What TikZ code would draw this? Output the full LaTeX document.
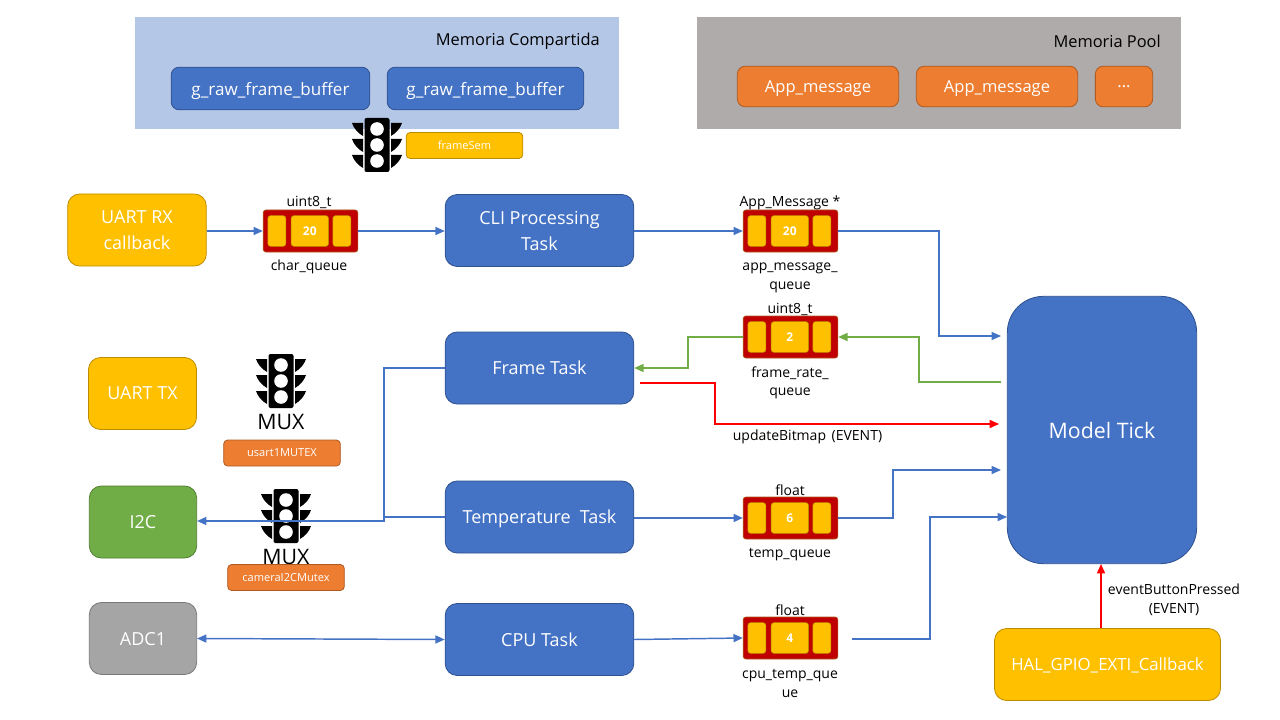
\documentclass[tikz,border=0pt]{standalone}
\usepackage{fontspec}
\setmainfont{Open Sans}
\usetikzlibrary{arrows.meta,calc}

\definecolor{taskblue}{HTML}{4472C4}
\definecolor{taskedge}{HTML}{2F528F}
\definecolor{linkblue}{HTML}{4472C4}
\definecolor{memblue}{HTML}{B4C7E7}
\definecolor{memgray}{HTML}{AFABAB}
\definecolor{msgorange}{HTML}{ED7D31}
\definecolor{msgedge}{HTML}{AE5A21}
\definecolor{periphyellow}{HTML}{FFC000}
\definecolor{yellowedge}{HTML}{BC8C00}
\definecolor{periphgreen}{HTML}{70AD47}
\definecolor{greenedge}{HTML}{507E32}
\definecolor{periphgray}{HTML}{A5A5A5}
\definecolor{grayedge}{HTML}{787878}
\definecolor{queuered}{HTML}{C00000}

\tikzset{
    box/.style={rounded corners=9pt, line width=0.6pt, align=center, text=white, inner sep=0pt,
        text depth=0pt, font=\fontsize{12.8}{19.5}\selectfont},
    task/.style={box, fill=taskblue, draw=taskedge, minimum width=141.5pt, minimum height=54pt,
        font=\fontsize{13.5}{19.5}\selectfont},
    buffer/.style={box, fill=taskblue, draw=taskedge, rounded corners=6pt, minimum height=32pt},
    message/.style={box, fill=msgorange, draw=msgedge, rounded corners=6pt, minimum height=30.5pt,
        font=\fontsize{12.4}{19}\selectfont},
    periph/.style={box, minimum height=54pt, font=\fontsize{13.5}{19}\selectfont},
    tag/.style={box, rounded corners=3pt, minimum width=87.5pt, minimum height=19.5pt,
        font=\fontsize{8.3}{9}\selectfont},
    caption/.style={align=center, inner sep=0pt, yshift=-1pt, font=\fontsize{10.5}{14.2}\selectfont},
    queuebox/.style={fill=queuered, draw=msgedge, line width=0.5pt, rounded corners=2pt,
        minimum width=71pt, minimum height=31.5pt, inner sep=0pt},
    slot/.style={fill=periphyellow, draw=yellowedge, line width=0.4pt, rounded corners=2pt,
        minimum height=23pt, inner sep=0pt, text=white, font=\fontsize{9}{9}\bfseries\selectfont},
    link/.style={-{Triangle[length=7pt,width=6pt]}, line width=1.1pt, draw=linkblue},
    plain link/.style={line width=1.1pt, draw=linkblue},
    green link/.style={link, draw=periphgreen},
    red link/.style={link, draw=red},
    pics/semaphore/.style={code={
        \fill[rounded corners=1.5pt] (-12.5,-27) rectangle (12.5,27);
        \foreach \yy in {-16,0,16} {
            \fill[white] (0,\yy) circle (6.8);
            \fill (-14,\yy-6) -- (-25,\yy-6) .. controls (-23,\yy) and (-19,\yy+4) .. (-14,\yy+7) -- cycle;
            \fill (14,\yy-6) -- (25,\yy-6) .. controls (23,\yy) and (19,\yy+4) .. (14,\yy+7) -- cycle;
        }
    }},
}

% queue with its three slots
\newcommand{\queue}[4]{
    \node[queuebox] (#1) at (#2,#3) {};
    \node[slot, minimum width=13.5pt] (#1l) at ($(#1.west)+(14,0)$) {};
    \node[slot, minimum width=28pt] (#1m) at ($(#1.west)+(47,0)$) {#4};
    \node[slot, minimum width=13.5pt] (#1r) at ($(#1.west)+(79,0)$) {};
}

\begin{document}
\begin{tikzpicture}[x=0.75pt, y=-0.75pt]
    \useasboundingbox (0,0) rectangle (1280,720);

    % Shared memory and pool
    \fill[memblue] (135,17) rectangle (619,129);
    \fill[memgray] (697,17) rectangle (1181,129);
    \node[caption, anchor=east, font=\fontsize{12.3}{14}\selectfont] (sharedlabel) at (600,40) {Memoria Compartida};
    \node[caption, anchor=east, font=\fontsize{12.3}{14}\selectfont] (poollabel) at (1161,40) {Memoria Pool};
    \node[buffer, minimum width=149pt] (buffera) at (270.5,88.5) {g\_raw\_frame\_buffer};
    \node[buffer, minimum width=147.5pt] (bufferb) at (485.5,88.5) {g\_raw\_frame\_buffer};
    \node[message, minimum width=121pt] (messagea) at (818,86.5) {App\_message};
    \node[message, minimum width=121pt] (messageb) at (997,86.5) {App\_message};
    \node[message, minimum width=43pt] (messagec) at (1124,86.5) {...};

    % Semaphores
    \pic at (377,145) {semaphore};
    \pic at (281,381) {semaphore};
    \pic at (286,516) {semaphore};
    \node[tag, fill=periphyellow, draw=yellowedge] (framesem) at (464.5,145.5) {frameSem};
    \node[caption, font=\fontsize{16}{16}\selectfont] (muxa) at (281,421) {MUX};
    \node[caption, font=\fontsize{16}{16}\selectfont] (muxb) at (286,556) {MUX};
    \node[tag, fill=msgorange, draw=msgedge] (usartmutex) at (282,453) {usart1MUTEX};
    \node[tag, fill=msgorange, draw=msgedge] (cameramutex) at (286,577.5) {cameraI2CMutex};

    % Peripherals
    \node[periph, fill=periphyellow, draw=yellowedge, minimum width=104pt] (uartrx) at (137,230) {UART RX\\callback};
    \node[periph, fill=periphyellow, draw=yellowedge, minimum width=81pt] (uarttx) at (142.5,393.5) {UART TX};
    \node[periph, fill=periphgreen, draw=greenedge, minimum width=80.5pt] (i2c) at (143,522) {I2C};
    \node[periph, fill=periphgray, draw=grayedge, minimum width=80.5pt] (adc) at (143,638.5) {ADC1};
    \node[periph, fill=periphyellow, draw=yellowedge, minimum width=169.5pt,
        font=\fontsize{12.6}{19}\selectfont] (exti) at (1107.5,664.5) {HAL\_GPIO\_EXTI\_Callback};

    % Tasks
    \node[task] (clitask) at (539.5,230.5) {CLI Processing\\Task};
    \node[task] (frametask) at (539.5,368) {Frame Task};
    \node[task] (temptask) at (539.5,517) {Temperature\hspace{0.5em}Task};
    \node[task] (cputask) at (539.5,639.5) {CPU Task};
    \node[task, minimum width=142pt, minimum height=200.5pt, rounded corners=27pt,
        font=\fontsize{16}{19}\selectfont] (model) at (1102,430) {Model Tick};

    % Queues
    \queue{charq}{310.5}{231}{20}
    \queue{appq}{790.5}{231}{20}
    \queue{rateq}{790.5}{337}{2}
    \queue{tempq}{790.5}{518}{6}
    \queue{cpuq}{790.5}{638}{4}

    % Queue labels
    \node[caption] (chartype) at (309,201) {uint8\_t};
    \node[caption] (charname) at (309,266) {char\_queue};
    \node[caption] (apptype) at (790,202) {App\_Message *};
    \node[caption] (appname) at (790,276.5) {app\_message\_\\queue};
    \node[caption] (ratetype) at (790,308) {uint8\_t};
    \node[caption] (ratename) at (790,381.5) {frame\_rate\_\\queue};
    \node[caption] (temptype) at (790,489) {float};
    \node[caption] (tempname) at (790,553) {temp\_queue};
    \node[caption] (cputype) at (790,609) {float};
    \node[caption] (cpuname) at (790,682.5) {cpu\_temp\_que\\ue};
    \node[caption] (updatelabel) at (807.5,436) {updateBitmap\hspace{0.4em}(EVENT)};
    \node[caption] (buttonlabel) at (1174,598) {eventButtonPressed\\(EVENT)};

    % Free ends at the model
    \coordinate (appin) at (1001,336);
    \coordinate (rateout) at (1001,382);
    \coordinate (updatein) at (999,424);
    \coordinate (tempin) at (1001,470);
    \coordinate (cpuin) at (1007,517);
    \coordinate (updateout) at (640,383);
    \coordinate (cpuout) at (852,639);
    \coordinate (buttonin) at (1101,564);

    % Connectors
    \draw[link] (uartrx.east |- charq.west) -- (charq.west);
    \draw[link] (charq.east) -- (clitask.west |- charq.east);
    \draw[link] (clitask.east |- appq.west) -- (appq.west);
    \draw[link] (appq.east) -- (939,231) |- (appin);
    \draw[green link] (rateout) -- (919,382) |- (rateq.east);
    \draw[green link] (rateq.west) -- (688,337) |- (frametask.east);
    \draw[red link] (updateout) -- (715,383) |- (updatein);
    \draw[link] (frametask.west) -- (384,368) -- (384,521) -- (i2c.east |- 0,521);
    \draw[plain link] (temptask.west) -- (384,517);
    \draw[link] (temptask.east |- tempq.west) -- (tempq.west);
    \draw[link] (tempq.east) -- (893,518) |- (tempin);
    \draw[link, {Triangle[length=7pt,width=6pt]}-{Triangle[length=7pt,width=6pt]}] (adc.east) -- (cputask.west);
    \draw[link] (cputask.east) -- (cpuq.west);
    \draw[link] (cpuout) -- (930,639) |- (cpuin);
    \draw[red link] (exti.north -| buttonin) -- (buttonin);
\end{tikzpicture}
\end{document}
